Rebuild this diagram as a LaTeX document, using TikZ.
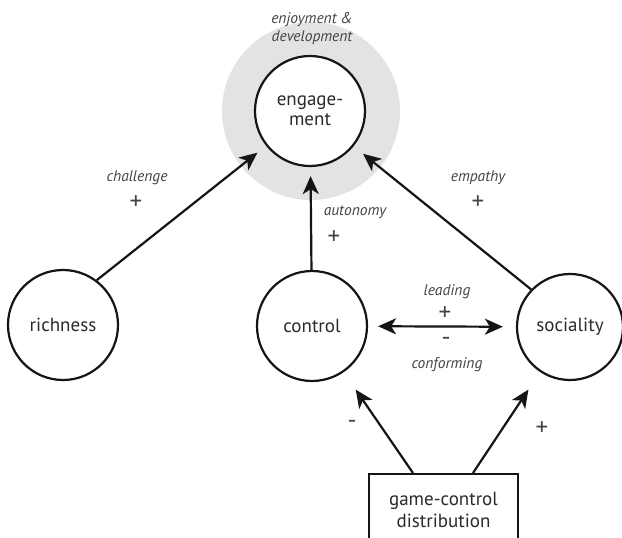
\documentclass[tikz,border=0pt]{standalone}
\usepackage{fontspec}
\setmainfont{PT Sans}
\usetikzlibrary{arrows.meta}
\definecolor{txt}{HTML}{2B2B2B}
\definecolor{lab}{HTML}{444444}
\definecolor{halo}{HTML}{E3E3E3}
\definecolor{ink}{HTML}{151515}
\begin{document}
\begin{tikzpicture}[x=1pt,y=-1pt,
  concept/.style={circle, draw=ink, line width=2.2pt, fill=white, minimum size=110pt, inner sep=0pt,
    text=txt, align=center, font=\fontsize{19}{20}\selectfont},
  sign/.style={text=lab, font=\fontsize{25}{25}\selectfont, inner sep=0pt},
  lbl/.style={text=lab, font=\fontsize{15.5}{18}\selectfont\itshape, align=center, inner sep=0pt},
  link/.style={draw=ink, line width=2.2pt, -{Stealth[length=18pt,width=16pt,inset=5pt]}},
  dlink/.style={draw=ink, line width=2.2pt, {Stealth[length=18pt,width=16pt,inset=5pt]}-{Stealth[length=18pt,width=16pt,inset=5pt]}},
  boxstyle/.style={draw=ink, line width=2.2pt, fill=white, minimum width=149pt, minimum height=72pt,
    text=txt, align=center, font=\fontsize{19}{22}\selectfont}
]
\useasboundingbox (0,0) rectangle (622,538);
\clip (0,0) rectangle (622,538);
\fill[white] (0,0) rectangle (622,538);

\node[circle, fill=halo, minimum size=178pt, inner sep=0pt] (halo) at (311,111) {};
\node[concept] (eng) at (310,111) {engage-\\ment};
\node[concept] (rich) at (63,325) {richness};
\node[concept] (ctrl) at (312,326) {control};
\node[concept, minimum size=106pt] (soc) at (570,327) {sociality};
\node[boxstyle, anchor=north] (box) at (443.5,473) {game-control\\distribution};

\node[lbl] (enjoy) at (312,29) {enjoyment \&\\development};
\node[lbl] (chal) at (137,178) {challenge};
\node[sign] (chalp) at (136,203) {+};
\node[lbl] (emp) at (478,178) {empathy};
\node[sign] (empp) at (478,203) {+};
\node[lbl] (auto) at (355,212) {autonomy};
\node[sign] (autop) at (334,238) {+};
\node[lbl] (lead) at (447,292) {leading};
\node[sign] (leadp) at (445,314) {+};
\node[sign] (confm) at (446,341) {-};
\node[lbl] (conf) at (447,365) {conforming};
\node[sign] (boxm) at (352,424) {-};
\node[sign] (boxp) at (542,429) {+};

\draw[link, shorten >=11pt] (rich.53) -- (eng);
\draw[link, shorten >=9pt] (ctrl) -- (eng);
\draw[link, shorten >=12pt] (soc.136) -- (eng);
\draw[dlink, shorten <=10pt, shorten >=13pt] (ctrl) -- (soc);
\coordinate (bl) at ([xshift=-30.5pt]box.north);
\coordinate (br) at ([xshift=29.5pt]box.north);
\draw[link, shorten >=21pt] (bl) -- (ctrl);
\draw[link, shorten >=21pt] (br) -- (soc);
\end{tikzpicture}
\end{document}
